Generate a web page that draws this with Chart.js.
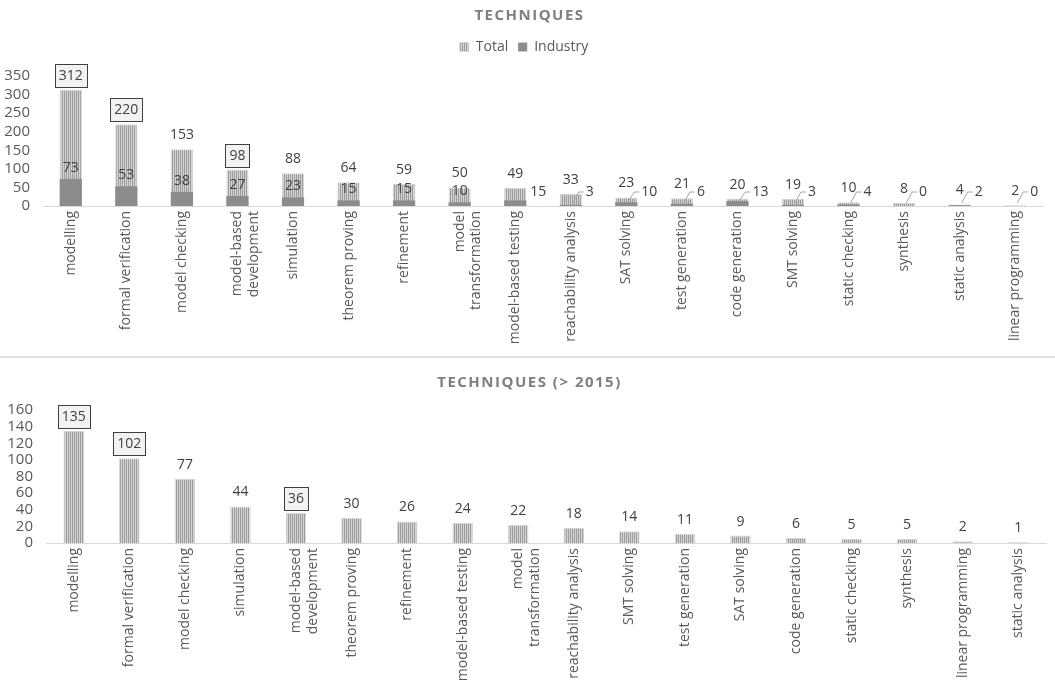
<!DOCTYPE html>
<html>
<head>
<meta charset="utf-8">
<script src="https://cdn.jsdelivr.net/npm/chart.js@4.4.0/dist/chart.umd.min.js"></script>
<style>
html, body { margin: 0; padding: 0; background: #fff; }
#wrapTop { position: absolute; left: 0; top: 0; width: 1055px; height: 355px; }
#sep { position: absolute; left: 0; top: 356px; width: 1055px; height: 2px; background: #e2e2e2; }
#wrapBottom { position: absolute; left: 0; top: 360px; width: 1055px; height: 323px; }
</style>
</head>
<body>
<div id="wrapTop"><canvas id="topChart"></canvas></div>
<div id="sep"></div>
<div id="wrapBottom"><canvas id="bottomChart"></canvas></div>
<script>
// all years
const topCategories = ['modelling', 'formal verification', 'model checking', ['model-based', 'development'],
  'simulation', 'theorem proving', 'refinement', ['model', 'transformation'], 'model-based testing',
  'reachability analysis', 'SAT solving', 'test generation', 'code generation', 'SMT solving',
  'static checking', 'synthesis', 'static analysis', 'linear programming']
const topTotal = [312, 220, 153, 98, 88, 64, 59, 50, 49, 33, 23, 21, 20, 19, 10, 8, 4, 2]
const topIndustry = [73, 53, 38, 27, 23, 15, 15, 10, 15, 3, 10, 6, 13, 3, 4, 0, 2, 0]
const topBoxed = [0, 1, 3]

// > 2015
const bottomCategories = ['modelling', 'formal verification', 'model checking', 'simulation',
  ['model-based', 'development'], 'theorem proving', 'refinement', 'model-based testing',
  ['model', 'transformation'], 'reachability analysis', 'SMT solving', 'test generation',
  'SAT solving', 'code generation', 'static checking', 'synthesis', 'linear programming', 'static analysis']
const bottomTotal = [135, 102, 77, 44, 36, 30, 26, 24, 22, 18, 14, 11, 9, 6, 5, 5, 2, 1]
const bottomBoxed = [0, 1, 4]

const FONT = '"Open Sans", "Liberation Sans", sans-serif'
const TEXT = '#404040'
const AXIS = '#595959'

function stripes() {
  const c = document.createElement('canvas')
  c.width = 2
  c.height = 4
  const g = c.getContext('2d')
  g.fillStyle = '#d4d4d4'
  g.fillRect(0, 0, 2, 4)
  g.fillStyle = '#9c9c9c'
  g.fillRect(0, 0, 1, 4)
  return g.createPattern(c, 'repeat')
}

// title with letter spacing
const titlePlugin = {
  id: 'spacedTitle',
  afterDraw(chart, args, opts) {
    const ctx = chart.ctx
    ctx.save()
    ctx.font = 'bold 15px ' + FONT
    ctx.letterSpacing = '1.5px'
    ctx.fillStyle = '#7f7f7f'
    ctx.textAlign = 'center'
    ctx.textBaseline = 'middle'
    ctx.fillText(opts.text, chart.width / 2 + 2, opts.y)
    ctx.restore()
  }
}

// extra room under the legend
const legendMargin = {
  id: 'legendMargin',
  beforeLayout(chart, args, opts) {
    const legend = chart.legend
    if (!legend || legend._patched) return
    const fit = legend.fit
    legend.fit = function () {
      fit.call(this)
      this.height += opts.extra || 0
    }
    legend._patched = true
  }
}

// value labels, boxes and leader lines
const labelPlugin = {
  id: 'valueLabels',
  afterDatasetsDraw(chart, args, opts) {
    const ctx = chart.ctx
    const area = chart.chartArea
    ctx.save()
    ctx.font = '14px ' + FONT
    ctx.textBaseline = 'middle'
    const totalMeta = chart.getDatasetMeta(0)
    const totals = chart.data.datasets[0].data
    totalMeta.data.forEach((bar, i) => {
      const txt = String(totals[i])
      const y = bar.y - 14
      ctx.textAlign = 'center'
      if (opts.boxed.includes(i)) {
        const w = Math.round(ctx.measureText(txt).width + 8)
        const bx = Math.round(bar.x - w / 2) + 0.5
        ctx.fillStyle = '#f2f2f2'
        ctx.strokeStyle = '#404040'
        ctx.lineWidth = 1
        ctx.fillRect(bx, Math.round(y) - 11.5, w, 23)
        ctx.strokeRect(bx, Math.round(y) - 11.5, w, 23)
      }
      ctx.fillStyle = TEXT
      ctx.fillText(txt, bar.x, y)
    })
    if (chart.data.datasets.length > 1) {
      const indMeta = chart.getDatasetMeta(1)
      const inds = chart.data.datasets[1].data
      indMeta.data.forEach((bar, i) => {
        const txt = String(inds[i])
        ctx.fillStyle = TEXT
        if (i < opts.insideCount) {
          ctx.textAlign = 'center'
          ctx.fillText(txt, bar.x, bar.y - 11)
          return
        }
        const ly = area.bottom - 14
        const lx = bar.x + 15
        ctx.textAlign = 'left'
        ctx.fillText(txt, lx, ly)
        if (i > opts.insideCount) {
          ctx.strokeStyle = '#a6a6a6'
          ctx.lineWidth = 1
          ctx.beginPath()
          ctx.moveTo(bar.x + 2, Math.min(bar.y, area.bottom - 2) - 1)
          ctx.lineTo(bar.x + 8, ly)
          ctx.lineTo(lx - 2, ly)
          ctx.stroke()
        }
      })
    }
    ctx.restore()
  }
}

function xScale(height) {
  return {
    grid: { display: false, drawTicks: false },
    border: { color: '#d9d9d9', width: 1 },
    ticks: {
      color: AXIS, font: { family: FONT, size: 14 },
      minRotation: 90, maxRotation: 90, autoSkip: false, padding: 5
    },
    afterFit(scale) {
      scale.height = height
    }
  }
}

function yScale(max, step, width) {
  return {
    min: 0, max: max,
    grid: { display: false, drawTicks: false },
    border: { display: false },
    ticks: { stepSize: step, autoSkip: false, color: AXIS, font: { family: FONT, size: 15 }, padding: 13 },
    afterFit(scale) {
      scale.width = width
    }
  }
}

const pattern = stripes()

new Chart(document.getElementById('topChart'), {
  type: 'bar',
  data: {
    labels: topCategories,
    datasets: [
      {
        label: 'Total', data: topTotal, order: 2, grouped: false,
        backgroundColor: pattern, borderColor: '#d4d4d4', borderWidth: 1,
        categoryPercentage: 1, barPercentage: 0.4
      },
      {
        label: 'Industry', data: topIndustry, order: 1, grouped: false,
        backgroundColor: '#8c8c8c', borderWidth: 0,
        categoryPercentage: 1, barPercentage: 0.4
      }
    ]
  },
  options: {
    responsive: true,
    maintainAspectRatio: false,
    animation: false,
    layout: { padding: { left: 5, right: 12, top: 30, bottom: 0 } },
    scales: { x: xScale(149), y: yScale(350, 50, 38) },
    plugins: {
      legend: {
        reverse: true,
        labels: { boxWidth: 9, boxHeight: 9, color: AXIS, font: { family: FONT, size: 14 }, padding: 10 }
      },
      legendMargin: { extra: 12 },
      tooltip: { enabled: false },
      spacedTitle: { text: 'TECHNIQUES', y: 16 },
      valueLabels: { boxed: topBoxed, insideCount: 8 }
    }
  },
  plugins: [titlePlugin, legendMargin, labelPlugin]
})

new Chart(document.getElementById('bottomChart'), {
  type: 'bar',
  data: {
    labels: bottomCategories,
    datasets: [
      {
        label: 'Total', data: bottomTotal,
        backgroundColor: pattern, borderColor: '#d4d4d4', borderWidth: 1,
        categoryPercentage: 1, barPercentage: 0.37
      }
    ]
  },
  options: {
    responsive: true,
    maintainAspectRatio: false,
    animation: false,
    layout: { padding: { left: 7, right: 9, top: 50, bottom: 0 } },
    scales: { x: xScale(140), y: yScale(160, 20, 39) },
    plugins: {
      legend: { display: false },
      tooltip: { enabled: false },
      spacedTitle: { text: 'TECHNIQUES (> 2015)', y: 23 },
      valueLabels: { boxed: bottomBoxed, insideCount: 99 }
    }
  },
  plugins: [titlePlugin, labelPlugin]
})
</script>
</body>
</html>
